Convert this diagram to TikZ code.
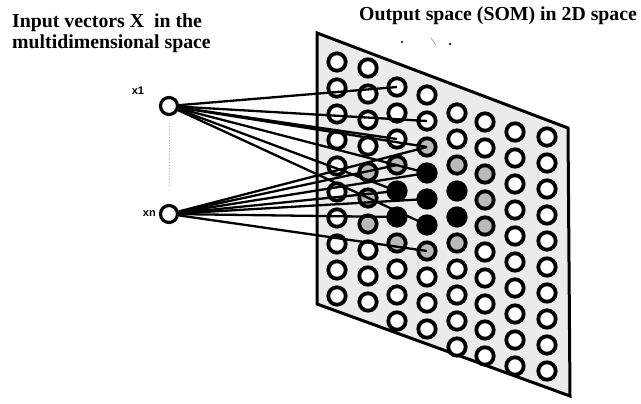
\documentclass[tikz,border=0pt]{standalone}
\usepackage{fontspec}
\setmainfont{Liberation Serif}
\newfontfamily\lsans{Liberation Sans}
\def\setcell#1#2{\expandafter\def\csname cell#1\endcsname{#2}}
\setcell{2-4}{blk}\setcell{2-5}{blk}\setcell{3-3}{blk}\setcell{3-4}{blk}
\setcell{3-5}{blk}\setcell{4-3}{blk}\setcell{4-4}{blk}
\setcell{1-4}{gry}\setcell{1-5}{gry}\setcell{1-6}{gry}\setcell{2-3}{gry}
\setcell{2-6}{gry}\setcell{3-2}{gry}\setcell{3-6}{gry}\setcell{4-2}{gry}
\setcell{4-5}{gry}\setcell{5-2}{gry}\setcell{5-3}{gry}\setcell{5-4}{gry}
\tikzset{
 cellnode/.style={circle,draw=black,line width=3.8pt,minimum size=17.4pt,inner sep=0pt},
 wht/.style={fill=white},
 gry/.style={fill=gray!55},
 blk/.style={fill=black},
 inp/.style={circle,draw=black,line width=3.2pt,minimum size=17pt,inner sep=0pt,fill=white},
 conn/.style={line width=2.3pt,black},
 title/.style={font=\bfseries\fontsize{19.8}{20}\selectfont,inner sep=0pt},
 lbl/.style={font=\lsans\bfseries\fontsize{11}{12}\selectfont,inner sep=0pt},
 panel/.style={draw=black,line width=3pt,fill=gray!16,line join=miter},
 dots/.style={gray!60,line width=0.8pt,dotted},
 speck/.style={fill=black!80,draw=none},
}
\begin{document}
\begin{tikzpicture}[x=1pt,y=-1pt]
\useasboundingbox (0,0) rectangle (641,404);
\fill[white] (0,0) rectangle (641,404);
% titles
\node[title,anchor=base west] (t1) at (12,28) {Input vectors X~ in the};
\node[title,anchor=base west] (t2) at (12,49) {multidimensional space};
\node[title,anchor=base west] (t3) at (359,21) {Output space (SOM) in 2D space};
% specks under the title
\fill[speck] (402,42) circle (1.3);
\fill[speck] (450,44) circle (1.5);
\draw[gray!70,line width=0.8pt] (431,38) -- (436,45);
% panel
\draw[panel] (317,33) -- (568,128) -- (570,396) -- (317,304) -- cycle;
% grid
\foreach \c/\x/\y in {0/337/62,1/368/68,2/397/87,3/427/95,4/457/113,5/485/122,6/515/132,7/547/137}{
  \foreach \r in {0,...,9}{
    \pgfmathsetmacro\yy{\y+26*\r}
    \edef\st{\ifcsname cell\c-\r\endcsname\csname cell\c-\r\endcsname\else wht\fi}
    \edef\tmp{\noexpand\node[cellnode,\st] (g-\c-\r) at (\x,\yy) {};}
    \tmp
  }
}
% inputs
\node[inp] (x1) at (169,106) {};
\node[inp] (xn) at (169,214) {};
\node[lbl] (lx1) at (138,91) {x1};
\node[lbl,anchor=east] (lxn) at (156,214) {xn};
\coordinate (d1) at (169,123);
\coordinate (d2) at (169,187);
\draw[dots] (d1) -- (d2);
% connectors
\foreach \t in {2-0,3-1,2-2,3-2,3-3,2-4,3-5}
  \draw[conn] (x1) -- (g-\t.center);
\foreach \t in {3-2,2-3,3-3,2-4,3-4,2-5,3-6}
  \draw[conn] (xn) -- (g-\t.center);
\end{tikzpicture}
\end{document}
